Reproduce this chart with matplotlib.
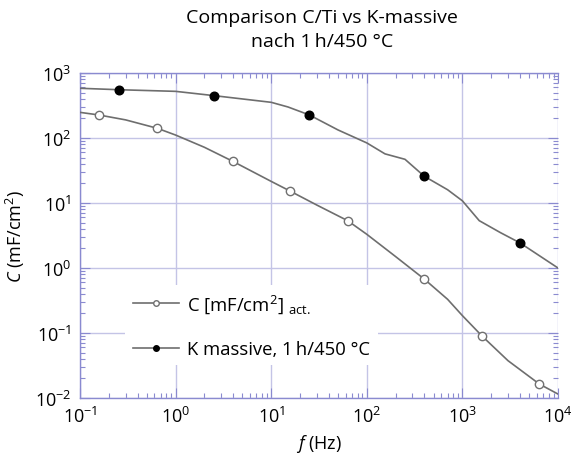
import matplotlib
matplotlib.use("Agg")
import matplotlib.pyplot as plt
import numpy as np

plt.rcParams['font.family'] = ['Open Sans', 'DejaVu Sans']
plt.rcParams['mathtext.fontset'] = 'custom'
plt.rcParams['mathtext.rm'] = 'Open Sans'
plt.rcParams['mathtext.it'] = 'Open Sans:italic'
plt.rcParams['mathtext.bf'] = 'Open Sans:bold'

# Open-marker series (C/Ti): marker points
c_f = [0.158, 0.644, 3.95, 15.7, 63, 398, 1615, 6380]
c_val = [226, 141, 43.9, 15.3, 5.35, 0.678, 0.089, 0.0164]
# Connecting line
c_line_f = [0.1, 0.158, 0.3, 0.644, 1.0, 2.0, 3.95, 10, 15.7, 30, 63, 100, 200, 398, 700,
            1000, 1615, 3000, 6380, 10000]
c_line_val = [248, 226, 190, 141, 111, 72, 43.9, 21.5, 15.3, 9.3, 5.35, 3.3, 1.5, 0.678, 0.33,
              0.185, 0.089, 0.0375, 0.0164, 0.0115]

# Filled-marker series (K massive)
k_f = [0.256, 2.54, 25.1, 399, 4010]
k_val = [553, 448, 226, 25.8, 2.43]
k_line_f = [0.1, 0.256, 1.0, 2.54, 10, 15, 25.1, 50, 100, 155, 251, 399, 700, 1000, 1500,
            2500, 4010, 10000]
k_line_val = [582, 553, 522, 448, 354, 300, 226, 133, 84, 57, 47, 25.8, 16, 10.8, 5.35,
              3.5, 2.43, 1.0]

x_ticks = [1e-1, 1e0, 1e1, 1e2, 1e3, 1e4]
y_ticks = [1e-2, 1e-1, 1e0, 1e1, 1e2, 1e3]

fig = plt.figure(figsize=(5.74, 4.64), dpi=100)
ax = fig.add_axes([80/574, 1-399/464, (558-80)/574, (399-74)/464])

line_col = '#6e6e6e'
grid_col = '#c4c4e6'
spine_col = '#8a8ad0'

ax.plot(c_line_f, c_line_val, '-', color=line_col, lw=1.2, zorder=3)
ax.plot(k_line_f, k_line_val, '-', color=line_col, lw=1.2, zorder=3)
ax.plot(c_f, c_val, 'o', ms=6, mfc='white', mec='#707070', mew=1.0, zorder=4)
ax.plot(k_f, k_val, 'o', ms=6.2, mfc='black', mec='black', zorder=4)

# legend proxies
ax.plot([], [], '-o', color=line_col, lw=1.2, ms=4, mfc='white', mec='#707070',
        label=r'C [mF/cm$^2$] $_{\mathrm{act.}}$')
ax.plot([], [], '-o', color=line_col, lw=1.2, ms=4, mfc='black', mec='black',
        label='K massive, 1\u2009h/450 °C')
handles, labels = ax.get_legend_handles_labels()
leg = ax.legend(handles[-2:], labels[-2:], loc='upper left', bbox_to_anchor=(0.095, 0.347),
                frameon=True, fontsize=13.3, handlelength=2.5, labelspacing=1.35,
                borderaxespad=0, handletextpad=0.45)
leg.get_frame().set_edgecolor('none')
leg.get_frame().set_facecolor('white')
leg.get_frame().set_alpha(1.0)
leg.set_zorder(5)

ax.set_xscale('log')
ax.set_yscale('log')
ax.set_xlim(1e-1, 1e4)
ax.set_ylim(1e-2, 1e3)
ax.set_xticks(x_ticks)
ax.set_yticks(y_ticks)
ax.grid(True, which='major', color=grid_col, lw=1.0, zorder=0)
ax.tick_params(which='both', direction='in', color=spine_col, top=True, right=True)
ax.tick_params(which='major', length=7, width=0.8, labelsize=13, pad=6)
ax.tick_params(which='minor', length=3.5, width=0.8)
for s in ['left', 'bottom', 'top']:
    ax.spines[s].set_color(spine_col)
    ax.spines[s].set_linewidth(1.0)
ax.spines['right'].set_visible(False)

ax.set_xlabel(r'$f$ (Hz)', fontsize=13, labelpad=4)
ax.set_ylabel(r'$C$ (mF/cm$^2$)', fontsize=13, labelpad=6)
fig.text((80+558)/2/574 + 0.005, 1-30/464, 'Comparison C/Ti vs K-massive\nnach 1\u2009h/450 °C',
         ha='center', va='center', fontsize=14, linespacing=1.4)

fig.savefig('out.png', dpi=100)
